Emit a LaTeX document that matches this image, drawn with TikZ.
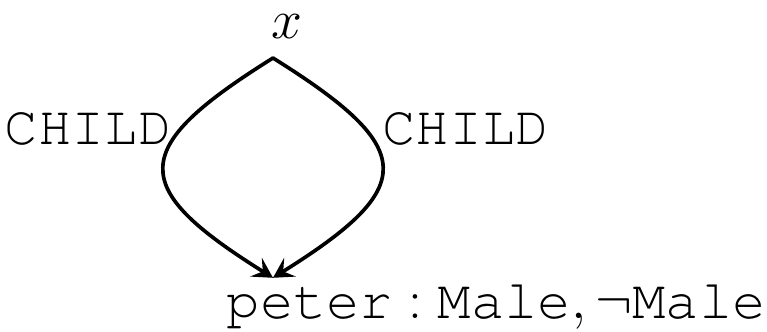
\RequirePackage{fix-cm}
\documentclass[tikz,border=0pt]{standalone}
\usepackage{fontspec}
\usepackage{tikz}
\usetikzlibrary{arrows.meta}
\newcommand\courier{\fontencoding{T1}\fontfamily{pcr}\selectfont}
\DeclareMathAlphabet{\mathcour}{T1}{pcr}{m}{n}

\begin{document}
\begin{tikzpicture}[scale=1, line cap=round, line join=round, >={Stealth[length=0.5cm, width=0.55cm, inset=0.2cm]}, font=\fontsize{39.5}{47}\selectfont]
				\useasboundingbox (0,0) rectangle (19.175,8.275);
				\node[inner sep=0] (x) at (7.175,7.62) {$x$};
				\node[inner sep=0, anchor=base west] (peter) at (5.66,0.325) {$\mathcour{peter}:\mathcour{Male},\neg\mathcour{Male}$};
				\coordinate (top) at (6.825,6.825);
				\coordinate (bot) at (6.825,1.33);
				\draw[->, line width=2.6pt] (top) to[out=212, in=148, looseness=2.0] node[pos=0.3, left, inner sep=0.2cm]{\courier CHILD} (bot);
				\draw[->, line width=2.6pt] (top) to[out=328, in=32, looseness=2.0] node[pos=0.3, right, inner sep=0.4cm]{\courier CHILD} (bot);
			\end{tikzpicture}
\end{document}
